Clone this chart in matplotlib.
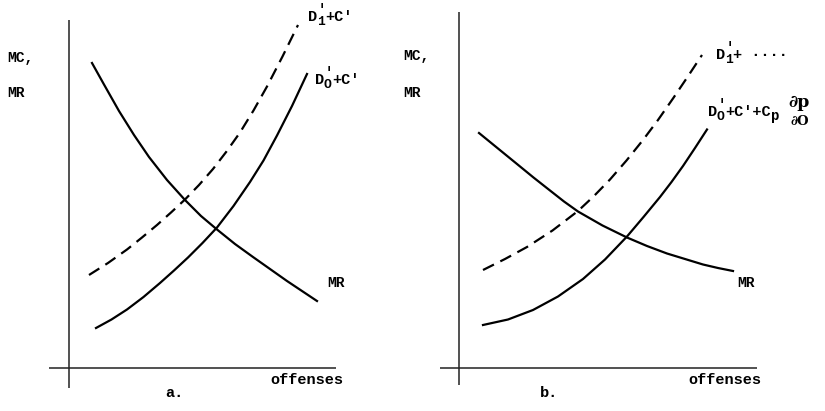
import matplotlib
matplotlib.use("Agg")
import matplotlib.pyplot as plt

plt.rcParams['font.family'] = ['Liberation Mono', 'DejaVu Sans Mono']
plt.rcParams['font.weight'] = 'bold'

# panel a (offenses vs MC, MR)
mr_a_x = [2.3, 3.5, 5.0, 6.5, 8.0, 9.8, 11.6, 13.2, 14.8, 16.6, 18.4, 20.1, 21.8, 23.3, 24.8]
mr_a_y = [30.5, 28.35, 25.7, 23.3, 21.1, 18.8, 16.8, 15.2, 13.85, 12.4, 11.1, 9.9, 8.7, 7.7, 6.7]
d1_a_x = [2.0, 3.9, 5.8, 7.3, 8.8, 10.2, 11.6, 13.0, 14.4, 15.75, 17.1, 18.45, 19.8, 21.35, 22.9]
d1_a_y = [9.3, 10.5, 11.85, 13.05, 14.3, 15.55, 16.85, 18.3, 19.9, 21.65, 23.55, 25.75, 28.15, 31.15, 34.3]
d0_a_x = [2.7, 4.25, 5.8, 7.45, 9.1, 10.5, 11.9, 13.35, 14.8, 16.45, 18.1, 19.45, 20.8, 22.3, 23.8]
d0_a_y = [4.0, 4.85, 5.85, 7.1, 8.5, 9.75, 11.05, 12.5, 14.05, 16.2, 18.6, 20.75, 23.25, 26.2, 29.4]

# panel b
mr_b_x = [2.0, 3.9, 5.8, 7.45, 9.1, 10.5, 11.9, 14.35, 16.8, 18.8, 20.8, 22.6, 24.4, 25.9, 27.4]
mr_b_y = [23.5, 21.95, 20.4, 19.05, 17.75, 16.65, 15.65, 14.25, 13.05, 12.2, 11.45, 10.9, 10.35, 10.0, 9.7]
d1_b_x = [2.4, 4.6, 6.8, 9.35, 11.9, 13.5, 15.1, 16.75, 18.4, 19.9, 21.4, 22.85, 24.3]
d1_b_y = [9.8, 10.9, 12.1, 13.75, 15.7, 17.2, 18.85, 20.75, 22.8, 24.8, 26.95, 29.1, 31.3]
d0_b_x = [2.4, 4.9, 7.4, 9.9, 12.4, 14.6, 16.8, 18.45, 20.1, 21.25, 22.4, 23.6, 24.8]
d0_b_y = [4.3, 4.85, 5.8, 7.15, 8.9, 10.85, 13.15, 15.1, 17.1, 18.6, 20.2, 22.0, 23.85]

W, H = 825, 411
fig = plt.figure(figsize=(8.25, 4.11), dpi=100)

def make_ax(left, right, top, bottom, x0, y0):
    ax = fig.add_axes([left / W, 1 - bottom / H, (right - left) / W, (bottom - top) / H])
    ax.set_xlim((left - x0) / 10, (right - x0) / 10)
    ax.set_ylim((y0 - bottom) / 10, (y0 - top) / 10)
    ax.axis('off')
    ax.axhline(0, color='#222222', lw=1.1)
    ax.axvline(0, color='#222222', lw=1.1)
    return ax

def put(ax, x, y, s, dx=0, dy=0, size=11, **kw):
    ax.annotate(s, (x, y), xytext=(dx, dy), textcoords='offset points',
                fontsize=size, ha='left', va='center', annotation_clip=False, **kw)

def dlabel(ax, x, y, sub, rest, size=11):
    cw = 0.6 * size
    put(ax, x, y, "D", size=size)
    put(ax, x, y, sub, cw * 0.95, -3.4, size * 0.85)
    put(ax, x, y, "'", cw * 1.05, 4.8, size * 0.9)
    put(ax, x, y, rest, cw * 1.85, 0, size)
    return cw * 1.85 + len(rest) * cw

lw = 1.6
dash = (5.5, 3.2)
frac_font = ['DejaVu Serif']

ax1 = make_ax(49, 336, 20, 388, 69, 368)
ax1.plot(mr_a_x, mr_a_y, color='black', lw=lw)
ax1.plot(d1_a_x, d1_a_y, color='black', lw=lw, dashes=dash)
ax1.plot(d0_a_x, d0_a_y, color='black', lw=lw)
dlabel(ax1, 23.9, 35.1, "1", "+C'")
dlabel(ax1, 24.6, 28.8, "O", "+C'")
put(ax1, 25.8, 8.5, "MR", size=10.5)
put(ax1, -6.2, 31.0, "MC,", size=10.5)
put(ax1, -6.2, 27.5, "MR", size=10.5)
put(ax1, 20.1, -1.2, "offenses")
put(ax1, 9.6, -2.5, "a.")

ax2 = make_ax(440, 757, 12, 385, 459, 368)
ax2.plot(mr_b_x, mr_b_y, color='black', lw=lw)
ax2.plot(d1_b_x, d1_b_y, color='black', lw=lw, dashes=dash)
ax2.plot(d0_b_x, d0_b_y, color='black', lw=lw)
dlabel(ax2, 25.7, 31.3, "1", "+ ····")
end = dlabel(ax2, 24.9, 25.6, "O", "+C'+C")
put(ax2, 24.9, 25.6, "p", end, -3.0, 10)
put(ax2, 24.9, 25.6, "∂p", end + 13, 6.5, 12.5, family=frac_font)
put(ax2, 24.9, 25.6, "∂O", end + 14, -6.5, 9.5, family=frac_font)
put(ax2, 27.8, 8.5, "MR", size=10.5)
put(ax2, -5.6, 31.2, "MC,", size=10.5)
put(ax2, -5.6, 27.5, "MR", size=10.5)
put(ax2, 22.9, -1.2, "offenses")
put(ax2, 8.1, -2.5, "b.")

fig.savefig("out.png", dpi=100, facecolor='white')
